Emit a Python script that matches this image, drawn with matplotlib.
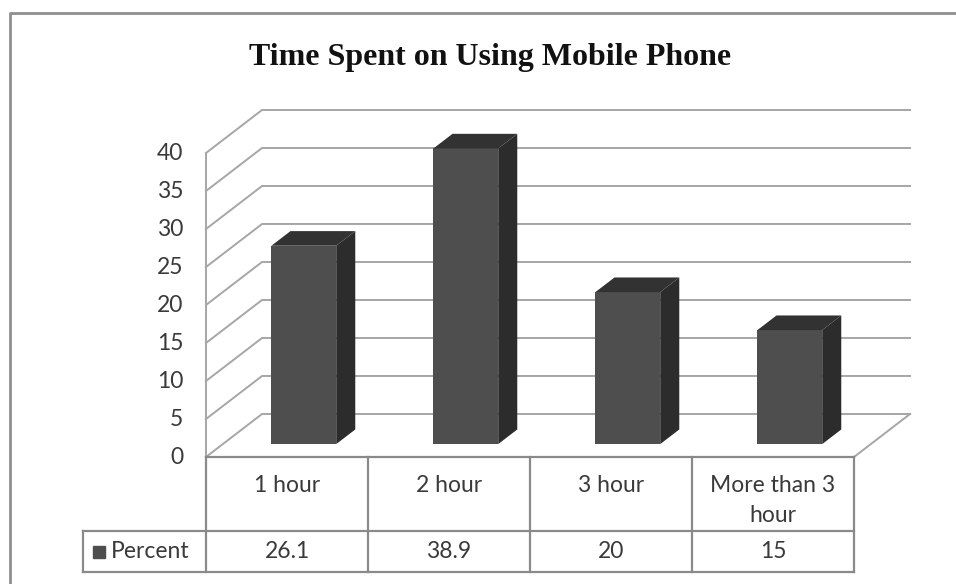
import matplotlib.pyplot as plt
from matplotlib.lines import Line2D

# --- data ---
categories = ["1 hour", "2 hour", "3 hour", "More than 3\nhour"]
percent = [26.1, 38.9, 20, 15]
value_labels = ["26.1", "38.9", "20", "15"]
y_ticks = [0, 5, 10, 15, 20, 25, 30, 35, 40]
series_name = "Percent"
title = "Time Spent on Using Mobile Phone"

# --- look ---
GRID = "#a6a6a6"
FRONT = "#4e4e4e"
SIDE = "#2c2c2c"
TOP = "#323232"
TXT = "#3a3a3a"
FS = 16.5

# oblique projection: full depth shifts x by DX (categories) and y by DY (value units)
DX = 0.346
DY = 5.66
D0, D1 = 0.30, 0.64  # bar front / back depth
BAR_W = 0.40

W, H = 956, 584
fig = plt.figure(figsize=(W / 100, H / 100), dpi=100)
ax = fig.add_axes([0, 0, 1, 1])
# 1 category = 162 px, 1 value unit = 7.6 px, origin at (206, 457) px
ax.set_xlim(-206 / 162, (W - 206) / 162)
ax.set_ylim((457 - H) / 7.6, 457 / 7.6)
ax.axis("off")

n = len(categories)
ymax = y_ticks[-1]

# left wall + back wall gridlines
for v in y_ticks:
    ax.plot([0, DX, n + DX], [v, v + DY, v + DY], color=GRID, lw=1.4, zorder=1,
            solid_joinstyle="miter")
    ax.text(-0.14, v, str(v), ha="right", va="center", fontsize=FS,
            family="Lato", color=TXT)
# floor right edge
ax.plot([n, n + DX], [0, DY], color=GRID, lw=1.4, zorder=1)
# front vertical of left wall
ax.plot([0, 0], [0, ymax], color=GRID, lw=1.4, zorder=1)

# bars
for i, v in enumerate(percent):
    x0 = i + 0.5 - BAR_W / 2 + D0 * DX
    x1 = x0 + BAR_W
    yb = D0 * DY
    yt = v + D0 * DY
    ddx = (D1 - D0) * DX
    ddy = (D1 - D0) * DY
    ax.fill([x0, x1, x1, x0], [yb, yb, yt, yt], color=FRONT, zorder=3, lw=0)
    ax.fill([x1, x1 + ddx, x1 + ddx, x1], [yb, yb + ddy, yt + ddy, yt],
            color=SIDE, zorder=3, lw=0)
    ax.fill([x0, x1, x1 + ddx, x0 + ddx], [yt, yt, yt + ddy, yt + ddy],
            color=TOP, zorder=3, lw=0)

# data table
row1 = -74 / 7.6
row2 = -115 / 7.6
left = -123 / 162
tcol = "#8a8a8a"
ax.plot([0, n], [0, 0], color=tcol, lw=1.6, zorder=2)
ax.plot([left, n], [row1, row1], color=tcol, lw=1.6, zorder=2)
ax.plot([left, n], [row2, row2], color=tcol, lw=1.6, zorder=2)
ax.plot([left, left], [row1, row2], color=tcol, lw=1.6, zorder=2)
for i in range(n + 1):
    ax.plot([i, i], [0, row2], color=tcol, lw=1.6, zorder=2)

for i, c in enumerate(categories):
    for k, line in enumerate(c.split("\n")):
        ax.text(i + 0.5, -(28 + 31 * k) / 7.6, line, ha="center", va="center",
                fontsize=FS, family="Lato", color=TXT)
    ax.text(i + 0.5, (row1 + row2) / 2, value_labels[i], ha="center",
            va="center", fontsize=FS, family="Lato", color=TXT)
ax.text(left + 0.175, (row1 + row2) / 2, series_name, ha="left", va="center",
        fontsize=FS, family="Lato", color=TXT)
ax.plot([left + 0.1], [(row1 + row2) / 2], marker="s", ms=9, color=FRONT,
        lw=0)

fig.text(490 / W, 1 - 57 / H, title, ha="center", va="center", fontsize=23,
         family="Liberation Serif", weight="bold", color="#111111")

# outer chart border (left and top visible)
fig.add_artist(Line2D([10 / W, 10 / W, 1], [0, 1 - 13 / H, 1 - 13 / H],
                      transform=fig.transFigure, color="#8f8f8f", lw=2.0))

fig.savefig("out.png", dpi=100)
